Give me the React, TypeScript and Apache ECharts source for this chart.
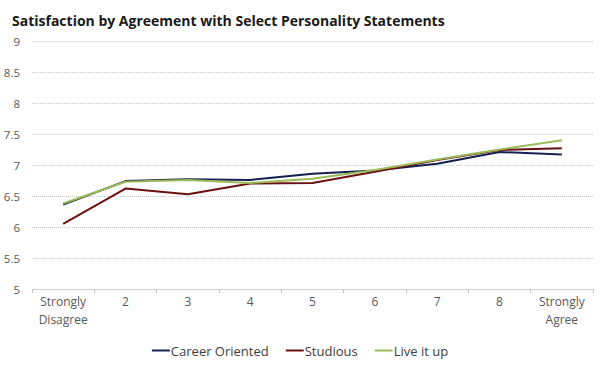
import React, { useEffect, useRef } from "react";
import * as echarts from "echarts";

const categories = ["Strongly\nDisagree", "2", "3", "4", "5", "6", "7", "8", "Strongly\nAgree"];
const careerOriented = [6.36, 6.74, 6.77, 6.76, 6.86, 6.91, 7.02, 7.21, 7.17];
const studious = [6.05, 6.62, 6.53, 6.70, 6.71, 6.89, 7.08, 7.24, 7.27];
const liveItUp = [6.38, 6.73, 6.76, 6.71, 6.78, 6.92, 7.09, 7.25, 7.40];
const seriesNames = ["Career Oriented", "Studious", "Live it up"];
const colors = ["#14214f", "#6b1012", "#9bbb59"];

const FONT = "'Open Sans', 'DejaVu Sans', sans-serif";

export default function App() {
  const ref = useRef<HTMLDivElement>(null);
  useEffect(() => {
    document.body.style.margin = "0";
    if (!ref.current) return;
    const chart = echarts.init(ref.current, undefined, { renderer: "svg" });
    const data = [careerOriented, studious, liveItUp];
    chart.setOption({
      animation: false,
      backgroundColor: "#ffffff",
      title: {
        text: "Satisfaction by Agreement with Select Personality Statements",
        left: 7,
        top: 8,
        textStyle: { fontFamily: FONT, fontSize: 14, fontWeight: "bold", color: "#1a1a1a" },
      },
      legend: {
        bottom: 18,
        left: "center",
        icon: "rect",
        itemWidth: 18,
        itemHeight: 2,
        itemGap: 17,
        textStyle: { fontFamily: FONT, fontSize: 13, color: "#404040", padding: [0, 0, 0, -4] },
        data: seriesNames,
      },
      grid: { left: 32, right: 7, top: 41, bottom: 91, containLabel: false },
      xAxis: {
        type: "category",
        data: categories,
        boundaryGap: true,
        axisLine: { show: true, lineStyle: { color: "#c8c8c8", type: "dotted" } },
        axisTick: { show: true, length: 4, lineStyle: { color: "#bfbfbf" } },
        axisLabel: {
          fontFamily: FONT,
          fontSize: 12,
          color: "#595959",
          lineHeight: 18,
          margin: 3,
          interval: 0,
        },
      },
      yAxis: {
        type: "value",
        min: 5,
        max: 9,
        interval: 0.5,
        axisLine: { show: false },
        axisTick: { show: false },
        axisLabel: {
          fontFamily: FONT,
          fontSize: 11.5,
          color: "#595959",
          margin: 12,
          formatter: (v: number) => String(v),
        },
        splitLine: { lineStyle: { color: "#c8c8c8", type: "dotted" } },
      },
      series: seriesNames.map((name, i) => ({
        name,
        type: "line",
        data: data[i],
        symbol: "none",
        lineStyle: { width: 2, color: colors[i] },
        itemStyle: { color: colors[i] },
      })),
    });
    return () => chart.dispose();
  }, []);
  return <div ref={ref} style={{ width: 600, height: 380 }} />;
}
